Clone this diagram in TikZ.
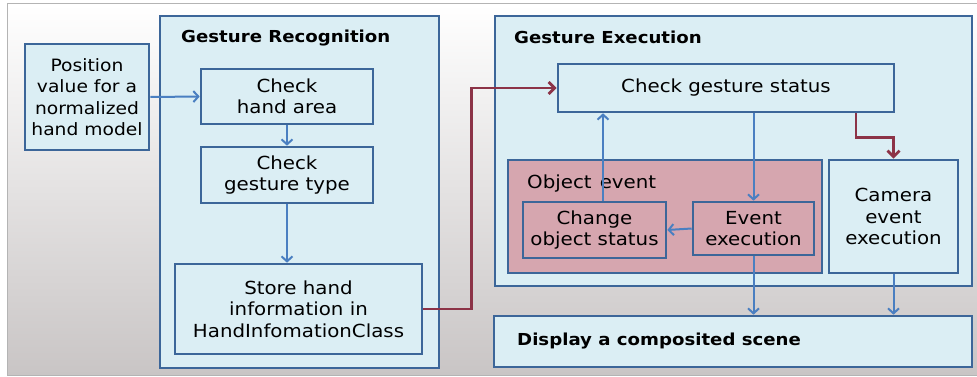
\documentclass[tikz,border=0pt]{standalone}
\usepackage{fontspec}
\setmainfont{DejaVu Sans}[FakeStretch=1.1]
\usetikzlibrary{arrows.meta}
\definecolor{boxfill}{HTML}{DBEEF4}
\definecolor{boxline}{HTML}{3C6699}
\definecolor{arrowblue}{HTML}{4A7FC1}
\definecolor{pinkfill}{HTML}{D6A6AF}
\definecolor{darkred}{HTML}{8C3347}
\definecolor{bgbot}{HTML}{C9C5C5}
\definecolor{frame}{HTML}{B4B4B4}
\begin{document}
\begin{tikzpicture}[x=1pt,y=-1pt,
  box/.style={draw=boxline, line width=2.6pt, fill=boxfill, inner sep=0pt, align=center,
    font=\fontsize{18}{21.5}\selectfont},
  pinkbox/.style={box, fill=pinkfill},
  title/.style={anchor=west, inner sep=0pt, font=\bfseries\fontsize{16.5}{20}\selectfont},
  barrow/.style={draw=arrowblue, line width=2pt, -{Straight Barb[length=5pt,width=11pt]}},
  rarrow/.style={draw=darkred, line width=2.8pt, -{Straight Barb[length=6pt,width=12pt]}}]
\useasboundingbox (0,0) rectangle (977,377);
\shade[top color=white, bottom color=bgbot] (7,4) rectangle (977,375);
\draw[frame, line width=1pt] (977,4) -- (7,4) -- (7,375) -- (977,375);

% containers
\node[box, minimum width=279pt, minimum height=352pt] (gr) at (299.5,192) {};
\node[title] (grt) at (181,38) {Gesture Recognition};
\node[box, minimum width=477pt, minimum height=270pt] (ge) at (733.5,151) {};
\node[title] (get) at (514,37) {Gesture Execution};
\node[pinkbox, minimum width=314pt, minimum height=113pt] (obj) at (665,216.5) {};
\node[anchor=west, inner sep=0pt, font=\fontsize{18}{21.5}\selectfont] (objt) at (527,184) {Object\hspace{0.45em}event};

% boxes
\node[box, minimum width=124pt, minimum height=106pt, font=\fontsize{17}{21.5}\selectfont] (pos) at (87,97) {Position\\value for a\\normalized\\hand model};
\node[box, minimum width=172pt, minimum height=55pt] (hand) at (287,96.5) {Check\\hand area};
\node[box, minimum width=172pt, minimum height=56pt] (gtype) at (287,175) {Check\\gesture type};
\node[box, minimum width=247pt, minimum height=90pt] (store) at (298.5,309) {Store hand\\information in\\HandInfomationClass};
\node[box, minimum width=336pt, minimum height=48pt] (status) at (726,88) {Check gesture status};
\node[pinkbox, minimum width=143pt, minimum height=56pt] (change) at (594.5,230) {Change\\object status};
\node[pinkbox, minimum width=121pt, minimum height=53pt] (evexec) at (753.5,228.5) {Event\\execution};
\node[box, minimum width=129pt, minimum height=113pt] (camera) at (893.5,216.5) {Camera\\event\\execution};
\node[box, minimum width=478pt, minimum height=51pt] (display) at (733,341.5) {};
\node[title] (dispt) at (517,341) {Display a composited scene};

% connectors
\draw[barrow] (pos.east) -- (hand.west);
\draw[barrow] (hand.south) -- (gtype.north);
\draw[barrow] (gtype.south) -- (gtype.south |- store.north);
\draw[rarrow] (store.east) -- ++(48,0) |- (status.west);
\draw[barrow] (status.south -| evexec.north) -- (evexec.north);
\draw[barrow] ([xshift=8.5pt]change.north) -- ([xshift=8.5pt]change.north |- status.south);
\draw[barrow] (evexec.west) -- (change.east);
\draw[barrow] (evexec.south) -- (evexec.south |- display.north);
\draw[barrow] (camera.south) -- (camera.south |- display.north);
\draw[rarrow] ([xshift=130pt]status.south) -- ++(0,24) -| (camera.north);
\end{tikzpicture}
\end{document}
